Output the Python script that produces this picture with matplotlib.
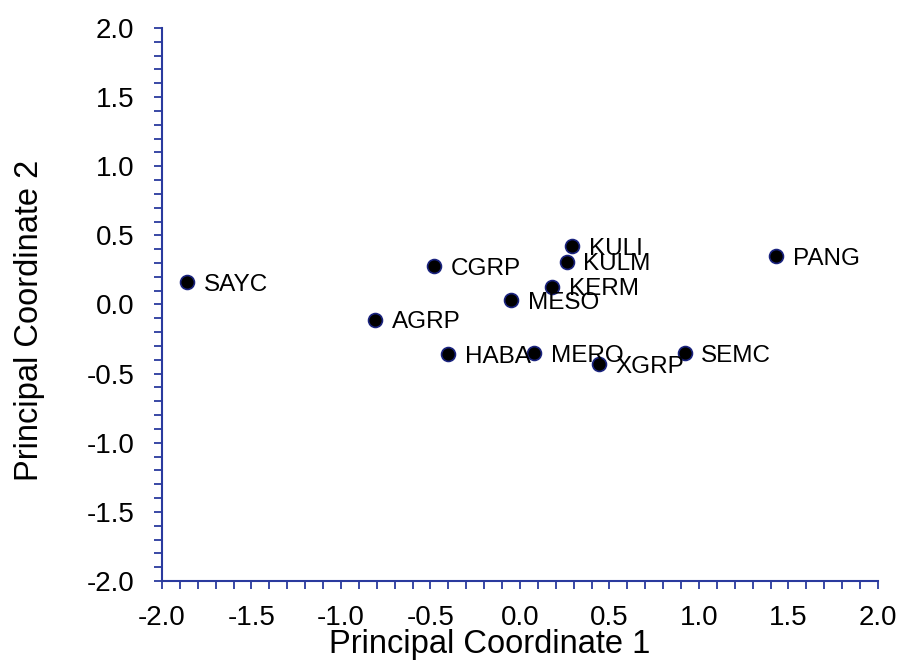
import numpy as np
import matplotlib.pyplot as plt
from matplotlib.ticker import MultipleLocator

plt.rcParams['font.family'] = ['Liberation Sans', 'DejaVu Sans']

# principal coordinates
labels = ["SAYC", "CGRP", "AGRP", "HABA", "MESO", "KULI", "KULM",
          "KERM", "MERO", "XGRP", "SEMC", "PANG"]
pc1 = [-1.86, -0.48, -0.81, -0.40, -0.05, 0.29, 0.26, 0.18, 0.08, 0.44, 0.92, 1.43]
pc2 = [0.16, 0.28, -0.11, -0.36, 0.03, 0.42, 0.31, 0.13, -0.35, -0.43, -0.35, 0.35]

axis_color = "#2a3a9e"

fig = plt.figure(figsize=(8.98, 6.69), dpi=100)
ax = fig.add_axes([0.1804, 0.1315, 0.7973, 0.8267])

ax.scatter(pc1, pc2, s=100, c="black", edgecolors="#1a237e", linewidths=1.2, zorder=3)
for x, y, name in zip(pc1, pc2, labels):
    ax.annotate(name, (x, y), xytext=(12, -2), textcoords="offset points",
                fontsize=17.5, va="center", ha="left", color="black")

ax.set_xlim(-2.0, 2.0)
ax.set_ylim(-2.0, 2.0)
ax.xaxis.set_major_locator(MultipleLocator(0.5))
ax.yaxis.set_major_locator(MultipleLocator(0.5))
ax.xaxis.set_minor_locator(MultipleLocator(0.1))
ax.yaxis.set_minor_locator(MultipleLocator(0.1))
ax.xaxis.set_major_formatter(lambda v, p: f"{v:.1f}")
ax.yaxis.set_major_formatter(lambda v, p: f"{v:.1f}")

for side in ["top", "right"]:
    ax.spines[side].set_visible(False)
for side in ["left", "bottom"]:
    ax.spines[side].set_color(axis_color)
    ax.spines[side].set_linewidth(1.5)

ax.tick_params(which="both", direction="out", length=6, width=1.3, color=axis_color,
               labelsize=20, labelcolor="black")
ax.tick_params(axis="x", which="major", pad=11)
ax.tick_params(axis="y", which="major", pad=14)

ax.set_xlabel("Principal Coordinate 1", fontsize=23.5)
ax.set_ylabel("Principal Coordinate 2", fontsize=23.5)
ax.xaxis.set_label_coords(0.458, -0.087)
ax.yaxis.set_label_coords(-0.163, 0.472)

fig.savefig("out.png", dpi=100)
